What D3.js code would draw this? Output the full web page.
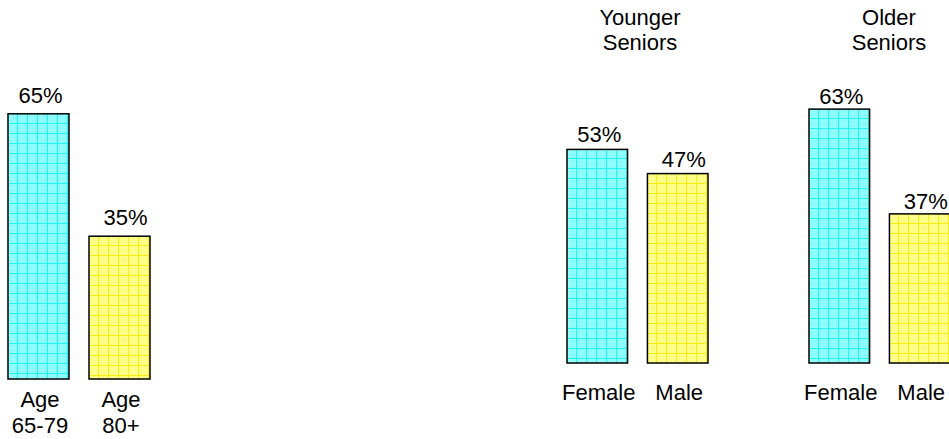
<!DOCTYPE html>
<html>
<head>
<meta charset="utf-8">
<script src="https://cdn.jsdelivr.net/npm/d3@7"></script>
<style>
  html, body { margin: 0; padding: 0; background: #fff; }
  svg { display: block; }
  text { font-family: "Liberation Sans", Arial, sans-serif; font-size: 22px; fill: #000; }
</style>
</head>
<body>
<div id="chart"></div>
<script>
'use strict';

const W = 949, H = 439;

// data
const AGE_CATS = [['Age', '65-79'], ['Age', '80+']];
const AGE_VALUES = [65, 35];
const YOUNG_TITLE = ['Younger', 'Seniors'];
const YOUNG_CATS = [['Female'], ['Male']];
const YOUNG_VALUES = [53, 47];
const OLD_TITLE = ['Older', 'Seniors'];
const OLD_CATS = [['Female'], ['Male']];
const OLD_VALUES = [63, 37];

const FILLS = ['cyan', 'yellow'];

// layout for each panel (positions only, no data)
const PANELS = [
  { cats: AGE_CATS, values: AGE_VALUES, title: null, x0: 8, x1: 150, base: 379, k: 4.08, gap: 11, catY: 407, titleX: 0 },
  { cats: YOUNG_CATS, values: YOUNG_VALUES, title: YOUNG_TITLE, x0: 567, x1: 708, base: 363, k: 4.03, gap: 7, catY: 400, titleX: 640 },
  { cats: OLD_CATS, values: OLD_VALUES, title: OLD_TITLE, x0: 809, x1: 950, base: 363, k: 4.03, gap: 5, catY: 400, titleX: 889 },
];

const svg = d3.select('#chart').append('svg')
  .attr('width', W).attr('height', H);
const defs = svg.append('defs');

// grid + dither pattern for the bars
function makePattern(id, kind, ox, oy) {
  const base = kind === 'cyan' ? '#a4ffff' : '#ffffa0';
  const dot  = kind === 'cyan' ? '#78ffff' : '#ffff70';
  const line = kind === 'cyan' ? '#20f4f4' : '#f8ec10';
  const p = defs.append('pattern')
    .attr('id', id)
    .attr('patternUnits', 'userSpaceOnUse')
    .attr('x', Math.round(ox)).attr('y', Math.round(oy))
    .attr('width', 10).attr('height', 10);
  p.append('rect').attr('width', 10).attr('height', 10).attr('fill', base);
  for (let i = 0; i < 10; i++) {
    for (let j = 0; j < 10; j++) {
      if ((i + j) % 2 === 0) p.append('rect').attr('x', i).attr('y', j).attr('width', 1).attr('height', 1).attr('fill', dot);
    }
  }
  p.append('rect').attr('x', 9).attr('y', 0).attr('width', 1).attr('height', 10).attr('fill', line);
  p.append('rect').attr('x', 0).attr('y', 9).attr('width', 10).attr('height', 1).attr('fill', line);
}

PANELS.forEach((pn, pi) => {
  const x = d3.scaleBand()
    .domain(pn.cats.map(c => c.join(' ')))
    .range([pn.x0, pn.x1])
    .paddingInner(0.247)
    .paddingOuter(0);
  const y = d3.scaleLinear()
    .domain([0, 100])
    .range([pn.base, pn.base - 100 * pn.k]);

  const g = svg.append('g');

  pn.cats.forEach((c, i) => {
    const key = c.join(' ');
    const bx = x(key), bw = x.bandwidth();
    const by = y(pn.values[i]);
    const pid = `pat-${pi}-${i}`;
    makePattern(pid, FILLS[i], bx, by);

    g.append('rect')
      .attr('x', bx).attr('y', by)
      .attr('width', bw).attr('height', y(0) - by)
      .attr('fill', `url(#${pid})`)
      .attr('stroke', '#000').attr('stroke-width', 1.5);

    // value label
    g.append('text')
      .attr('x', bx + bw / 2 + (i === 0 ? 2 : 6))
      .attr('y', by - pn.gap)
      .attr('text-anchor', 'middle')
      .text(d3.format('d')(pn.values[i]) + '%');

    // category label (one or two lines)
    c.forEach((line, li) => {
      g.append('text')
        .attr('x', bx + bw / 2 + 1.5)
        .attr('y', pn.catY + li * 26)
        .attr('text-anchor', 'middle')
        .text(line);
    });
  });

  if (pn.title) {
    pn.title.forEach((line, li) => {
      g.append('text')
        .attr('x', pn.titleX)
        .attr('y', 25 + li * 25)
        .attr('text-anchor', 'middle')
        .text(line);
    });
  }
});
</script>
</body>
</html>
